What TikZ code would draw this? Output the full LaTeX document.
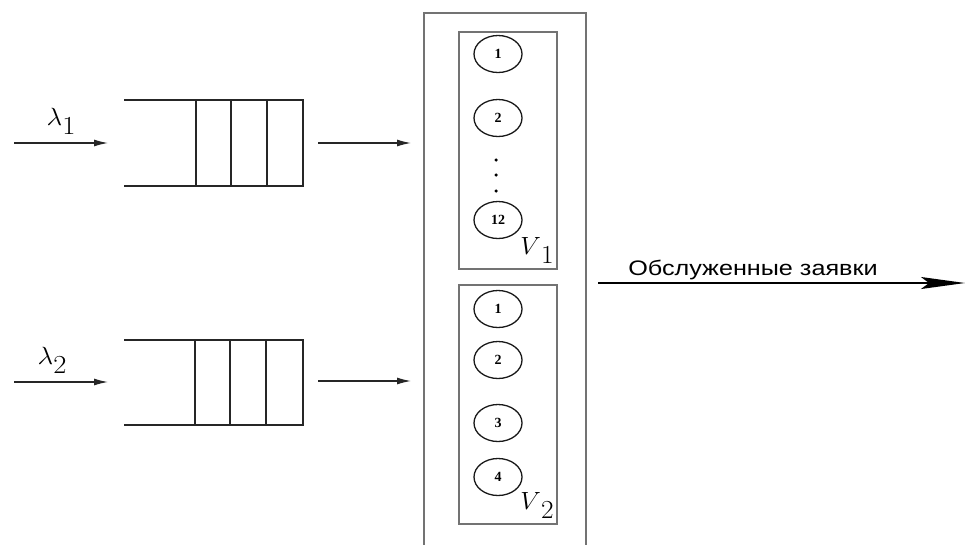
\documentclass[tikz,border=0pt]{standalone}
\usepackage{fontspec}
\newfontfamily\labelfont{Liberation Sans}
\newfontfamily\numfont{Liberation Serif}
\usetikzlibrary{arrows.meta,shapes.geometric}
\tikzset{
  queueline/.style={line width=1.6pt, draw=black!85},
  boxline/.style={line width=1.1pt, draw=black!55},
  server/.style={ellipse, draw=black!90, line width=1.3pt, minimum width=48pt, minimum height=37pt, inner sep=0pt,
    font=\numfont\bfseries\fontsize{14}{16}\selectfont},
  flow/.style={line width=1.2pt, draw=black!85, -{Latex[length=14pt,width=7pt]}},
  outflow/.style={line width=1.6pt, draw=black, -{Stealth[length=44pt,width=12pt,inset=8pt]}},
  rate/.style={font=\fontsize{26}{28}\selectfont, inner sep=0pt, xscale=1.1},
  grp/.style={font=\fontsize{26}{28}\selectfont, inner sep=0pt, xscale=1.05},
  dotmark/.style={circle, fill=black, inner sep=0pt, minimum size=3.5pt}
}
\begin{document}
\begin{tikzpicture}[x=1pt,y=-1pt]
\useasboundingbox (0,0) rectangle (965,544);
\clip (0,0) rectangle (965,544);

% ---- first queue ----
\draw[queueline] (124,100) -- (303,100) -- (303,186) -- (124,186);
\foreach \xx in {196,231,267} \draw[queueline] (\xx,100) -- (\xx,186);
\coordinate (in1s) at (14,143);
\coordinate (in1e) at (108,143);
\draw[flow] (in1s) -- (in1e);
\node[rate] (lam1) at (61,121) {$\lambda$\raisebox{-9pt}{1}};
\coordinate (out1s) at (318,143);
\coordinate (out1e) at (411,143);
\draw[flow] (out1s) -- (out1e);

% ---- second queue ----
\draw[queueline] (124,340) -- (303,340) -- (303,425) -- (124,425);
\foreach \xx in {195,230,266} \draw[queueline] (\xx,340) -- (\xx,425);
\coordinate (in2s) at (14,382);
\coordinate (in2e) at (108,382);
\draw[flow] (in2s) -- (in2e);
\node[rate] (lam2) at (52,360) {$\lambda$\raisebox{-9pt}{2}};
\coordinate (out2s) at (318,381);
\coordinate (out2e) at (411,381);
\draw[flow] (out2s) -- (out2e);

% ---- service system ----
\draw[boxline] (424,13) rectangle (586,560);
\draw[boxline] (459,32) rectangle (557,269);
\draw[boxline] (459,285) rectangle (557,524);

% group V1
\node[server] (s11) at (498,54) {1};
\node[server] (s12) at (498,118) {2};
\node[dotmark] (d1) at (496,160) {};
\node[dotmark] (d2) at (496,175) {};
\node[dotmark] (d3) at (496,191) {};
\node[server] (s112) at (498,220) {12};
\node[grp] (v1) at (537,250) {$V$\raisebox{-9pt}{1}};

% group V2
\node[server] (s21) at (498,309) {1};
\node[server] (s22) at (498,360) {2};
\node[server] (s23) at (498,423) {3};
\node[server] (s24) at (498,477) {4};
\node[grp] (v2) at (537,505) {$V$\raisebox{-9pt}{2}};

% ---- served requests ----
\coordinate (outs) at (598,283);
\coordinate (oute) at (965,283);
\draw[outflow] (outs) -- (oute);
\node[font=\labelfont\fontsize{21}{23}\selectfont, anchor=base west, inner sep=0pt, xscale=1.2] (served) at (628,275) {Обслуженные заявки};
\end{tikzpicture}
\end{document}
